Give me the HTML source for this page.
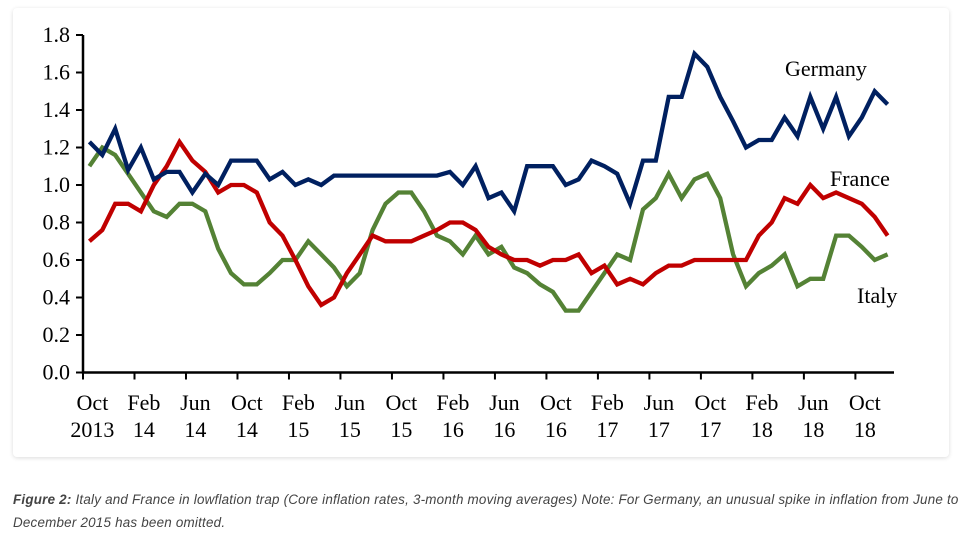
<!DOCTYPE html>
<html><head><meta charset="utf-8"><style>
body{margin:0;width:964px;height:544px;background:#fff;overflow:hidden;font-family:"Liberation Serif",serif}
#card{position:absolute;left:13px;top:8px;width:936px;height:449px;background:#fff;border-radius:4px;box-shadow:0 1px 4px rgba(0,0,0,0.14)}
#cap{position:absolute;left:13px;top:488px;white-space:nowrap;font-family:"Liberation Sans",sans-serif;font-style:italic;font-size:13.4px;letter-spacing:0.22px;line-height:23px;color:#444}
</style></head><body>
<div id="card"></div>
<svg id="chart" width="964" height="544" style="position:absolute;left:0;top:0"></svg>
<div id="cap"><b>Figure 2:</b> Italy and France in lowflation trap (Core inflation rates, 3-month moving averages) Note: For Germany, an unusual spike in inflation from June to<br>December 2015 has been omitted.</div>
<script>
const germany=[1.23,1.16,1.30,1.08,1.20,1.03,1.07,1.07,0.96,1.06,1.00,1.13,1.13,1.13,1.03,1.07,1.00,1.03,1.00,1.05,1.05,1.05,1.05,1.05,1.05,1.05,1.05,1.05,1.07,1.00,1.10,0.93,0.96,0.86,1.10,1.10,1.10,1.00,1.03,1.13,1.10,1.06,0.90,1.13,1.13,1.47,1.47,1.70,1.63,1.47,1.34,1.20,1.24,1.24,1.36,1.26,1.47,1.30,1.47,1.26,1.36,1.50,1.43];
const france=[0.70,0.76,0.90,0.90,0.86,1.00,1.10,1.23,1.13,1.07,0.96,1.00,1.00,0.96,0.80,0.73,0.60,0.46,0.36,0.40,0.53,0.63,0.73,0.70,0.70,0.70,0.73,0.76,0.80,0.80,0.76,0.67,0.63,0.60,0.60,0.57,0.60,0.60,0.63,0.53,0.57,0.47,0.50,0.47,0.53,0.57,0.57,0.60,0.60,0.60,0.60,0.60,0.73,0.80,0.93,0.90,1.00,0.93,0.96,0.93,0.90,0.83,0.73];
const italy=[1.10,1.20,1.16,1.06,0.96,0.86,0.83,0.90,0.90,0.86,0.66,0.53,0.47,0.47,0.53,0.60,0.60,0.70,0.63,0.56,0.46,0.53,0.76,0.90,0.96,0.96,0.86,0.73,0.70,0.63,0.73,0.63,0.67,0.56,0.53,0.47,0.43,0.33,0.33,0.43,0.53,0.63,0.60,0.87,0.93,1.06,0.93,1.03,1.06,0.93,0.63,0.46,0.53,0.57,0.63,0.46,0.50,0.50,0.73,0.73,0.67,0.60,0.63];
const yTicks=["0.0","0.2","0.4","0.6","0.8","1.0","1.2","1.4","1.6","1.8"];
const xLabels1=["Oct","Feb","Jun","Oct","Feb","Jun","Oct","Feb","Jun","Oct","Feb","Jun","Oct","Feb","Jun","Oct"];
const xLabels2=["2013","14","14","14","15","15","15","16","16","16","17","17","17","18","18","18"];
const NS="http://www.w3.org/2000/svg";
const svg=document.getElementById('chart');
const X0=83,X1=894,Y0=372.5,YTOP=35,nM=63;
const mw=(X1-X0)/nM;
const x=i=>X0+mw*(i+0.5);
const y=v=>Y0-(v/1.8)*(Y0-YTOP);
function mk(t,a){const e=document.createElementNS(NS,t);for(const k in a)e.setAttribute(k,a[k]);svg.appendChild(e);return e;}
let ax=mk('path',{d:`M${X0} ${YTOP}V${Y0}H${X1}`,stroke:'#000','stroke-width':2.5,fill:'none'});


yTicks.forEach((t,k)=>{const v=+t;const yy=y(v);
 const tk=mk('line',{x1:X0-7,x2:X0,y1:yy,y2:yy,stroke:'#000','stroke-width':2});
 
 
 const tx=mk('text',{x:70,y:yy+7,'text-anchor':'end','font-size':22,'font-family':'Liberation Serif, serif'});tx.textContent=t;
 
 
});
xLabels1.forEach((t,k)=>{const xt=X0+mw*4*k;
 const tk=mk('line',{x1:xt,x2:xt,y1:Y0,y2:Y0+7,stroke:'#000','stroke-width':2});
 
 
 const cx=X0+mw*(4*k+0.5)+3;
 const a=mk('text',{x:cx,y:410,'text-anchor':'middle','font-size':22,'font-family':'Liberation Serif, serif'});a.textContent=t;
 
 
 const b=mk('text',{x:cx,y:437,'text-anchor':'middle','font-size':22,'font-family':'Liberation Serif, serif'});b.textContent=xLabels2[k];
 
 
});
function line(d,c,n){const p=mk('polyline',{points:d.map((v,i)=>x(i).toFixed(1)+','+y(v).toFixed(1)).join(' '),fill:'none',stroke:c,'stroke-width':4.3,'stroke-linejoin':'miter'});
 
 }
line(italy,'#548235','italy-line');
line(france,'#c00000','france-line');
line(germany,'#002060','germany-line');
[["Germany",785,76,'germany-label'],["France",830,186,'france-label'],["Italy",857,303,'italy-label']].forEach(([t,xx,yy,n])=>{
 const e=mk('text',{x:xx,y:yy,'font-size':22,'font-family':'Liberation Serif, serif'});e.textContent=t;
 
 
});
</script>
</body></html>
